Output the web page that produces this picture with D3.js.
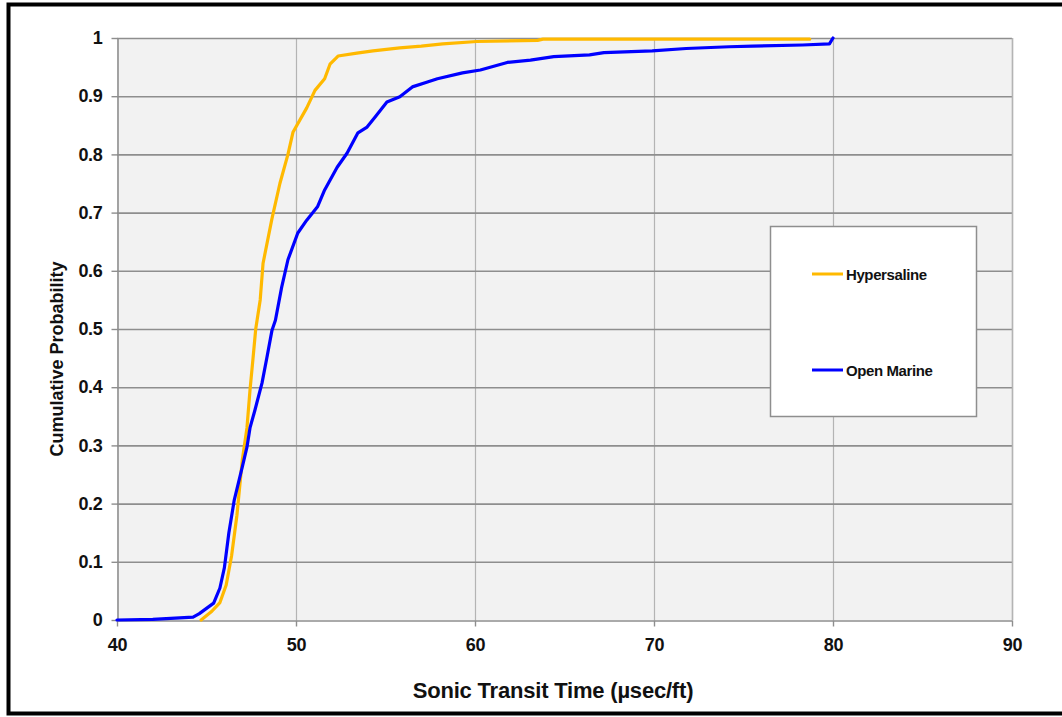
<!DOCTYPE html>
<html>
<head>
<meta charset="utf-8">
<script src="https://cdn.jsdelivr.net/npm/d3@7/dist/d3.min.js"></script>
<style>
  html, body { margin: 0; padding: 0; background: #fff; }
  svg { display: block; font-family: "Liberation Sans", Arial, sans-serif; }
</style>
</head>
<body>
<svg id="chart" width="1062" height="717"></svg>
<script>
// Hypersaline cumulative curve (transit time, cumulative probability)
const hyperX = [44.7, 45.3, 45.75, 46.1, 46.4, 46.7, 47.0, 47.26, 47.43, 47.6, 47.75, 48.0, 48.16, 48.66, 49.1, 49.55, 49.83, 50.6, 51.06, 51.6, 51.9, 52.35, 53.4, 54.3, 55.8, 57.0, 58.2, 60.1, 63.5, 63.8, 78.7];
const hyperP = [0, 0.015, 0.03, 0.06, 0.11, 0.18, 0.275, 0.33, 0.395, 0.45, 0.50, 0.55, 0.613, 0.69, 0.75, 0.80, 0.838, 0.88, 0.91, 0.93, 0.955, 0.969, 0.974, 0.978, 0.983, 0.986, 0.99, 0.994, 0.996, 0.998, 0.998];

// Open Marine cumulative curve
const marineX = [40.0, 42.0, 44.25, 44.6, 45.4, 45.75, 46.0, 46.25, 46.55, 47.0, 47.26, 47.43, 47.7, 48.1, 48.38, 48.66, 48.85, 49.2, 49.55, 50.1, 50.6, 51.2, 51.6, 52.3, 52.85, 53.46, 53.97, 54.41, 55.08, 55.8, 56.5, 57.3, 57.9, 59.3, 60.3, 61.8, 63.1, 64.4, 66.4, 67.2, 69.9, 71.8, 74.2, 75.5, 78.3, 79.8, 80.0];
const marineP = [0, 0.001, 0.005, 0.011, 0.029, 0.055, 0.09, 0.15, 0.206, 0.263, 0.297, 0.33, 0.36, 0.407, 0.452, 0.498, 0.515, 0.572, 0.619, 0.665, 0.687, 0.71, 0.739, 0.778, 0.802, 0.837, 0.847, 0.864, 0.89, 0.899, 0.916, 0.924, 0.93, 0.94, 0.945, 0.958, 0.962, 0.968, 0.971, 0.975, 0.978, 0.982, 0.985, 0.986, 0.988, 0.990, 1.0];

const xTicks = [40, 50, 60, 70, 80, 90];
const yTicks = [0, 0.1, 0.2, 0.3, 0.4, 0.5, 0.6, 0.7, 0.8, 0.9, 1];

const seriesNames = ['Hypersaline', 'Open Marine'];
const seriesColors = ['#ffb900', '#0000ff'];

const svg = d3.select('#chart');
const plot = { left: 117, right: 1012, top: 38, bottom: 620 };

const x = d3.scaleLinear().domain([40, 90]).range([plot.left, plot.right]);
const y = d3.scaleLinear().domain([0, 1]).range([plot.bottom, plot.top]);

// Outer frame
svg.append('rect')
  .attr('x', 8.5).attr('y', 4.5)
  .attr('width', 1062).attr('height', 709)
  .attr('fill', 'none')
  .attr('stroke', '#000')
  .attr('stroke-width', 4);

// Plot background
svg.append('rect')
  .attr('x', plot.left).attr('y', plot.top)
  .attr('width', plot.right - plot.left)
  .attr('height', plot.bottom - plot.top)
  .attr('fill', '#f2f2f2');

// Vertical grid
svg.append('g')
  .selectAll('line')
  .data(xTicks.slice(1))
  .enter().append('line')
  .attr('x1', d => x(d) + 0.5).attr('x2', d => x(d) + 0.5)
  .attr('y1', plot.top).attr('y2', plot.bottom)
  .attr('stroke', '#b4b4b4')
  .attr('stroke-width', 1.2);

// Horizontal grid
svg.append('g')
  .selectAll('line')
  .data(yTicks.slice(1))
  .enter().append('line')
  .attr('x1', plot.left).attr('x2', plot.right)
  .attr('y1', d => y(d) + 0.5).attr('y2', d => y(d) + 0.5)
  .attr('stroke', '#8e8e8e')
  .attr('stroke-width', 1.6);

// Right border of plot area
svg.append('line')
  .attr('x1', plot.right + 0.5).attr('x2', plot.right + 0.5)
  .attr('y1', plot.top).attr('y2', plot.bottom)
  .attr('stroke', '#b4b4b4').attr('stroke-width', 1.5);

// Axes
const xAxis = svg.append('g')
  .attr('transform', `translate(0,${plot.bottom + 0.5})`)
  .call(d3.axisBottom(x).tickValues(xTicks).tickSize(6).tickSizeOuter(0).tickPadding(12).tickFormat(d3.format('d')));

const yAxis = svg.append('g')
  .attr('transform', `translate(${plot.left + 0.5},0)`)
  .call(d3.axisLeft(y).tickValues(yTicks).tickSize(6).tickSizeOuter(0).tickPadding(9).tickFormat(d => d === 0 || d === 1 ? String(d) : d3.format('.1f')(d)));

[xAxis, yAxis].forEach(ax => {
  ax.select('.domain').attr('stroke', '#8e8e8e').attr('stroke-width', 1.6);
  ax.selectAll('.tick line').attr('stroke', '#8e8e8e').attr('stroke-width', 1.4);
  ax.selectAll('.tick text')
    .attr('fill', '#111')
    .attr('font-size', '18px')
    .attr('font-weight', 'bold')
    .attr('letter-spacing', '-0.3px')
    .attr('font-family', '"Liberation Sans", Arial, sans-serif');
});

// Lines
const line = d3.line()
  .x(d => x(d[0]))
  .y(d => y(d[1]));

const seriesData = [
  d3.zip(hyperX, hyperP),
  d3.zip(marineX, marineP)
];

svg.append('g')
  .selectAll('path')
  .data(seriesData)
  .enter().append('path')
  .attr('d', line)
  .attr('fill', 'none')
  .attr('stroke', (d, i) => seriesColors[i])
  .attr('stroke-width', 3.2)
  .attr('stroke-linejoin', 'round')
  .attr('stroke-linecap', 'round');

// Legend
const legend = svg.append('g').attr('transform', 'translate(770,226)');
legend.append('rect')
  .attr('x', 0.5).attr('y', 0.5)
  .attr('width', 206).attr('height', 190)
  .attr('fill', '#fff')
  .attr('stroke', '#8e8e8e')
  .attr('stroke-width', 1.5);

const items = legend.selectAll('.item')
  .data(seriesNames)
  .enter().append('g')
  .attr('class', 'item')
  .attr('transform', (d, i) => `translate(0,${48 + i * 96})`);

items.append('line')
  .attr('x1', 42).attr('x2', 73)
  .attr('y1', 0).attr('y2', 0)
  .attr('stroke', (d, i) => seriesColors[i])
  .attr('stroke-width', 3);

items.append('text')
  .attr('x', 76).attr('y', 1)
  .attr('dy', '0.36em')
  .attr('font-size', '15px')
  .attr('font-weight', 'bold')
  .attr('letter-spacing', '-0.4px')
  .attr('fill', '#111')
  .text(d => d);

// Axis titles
svg.append('text')
  .attr('x', 553)
  .attr('y', 698)
  .attr('text-anchor', 'middle')
  .attr('font-size', '22px')
  .attr('font-weight', 'bold')
  .attr('letter-spacing', '-0.2px')
  .attr('fill', '#111')
  .text('Sonic Transit Time (µsec/ft)');

svg.append('text')
  .attr('transform', `translate(63,${(plot.top + plot.bottom) / 2 + 30}) rotate(-90)`)
  .attr('text-anchor', 'middle')
  .attr('font-size', '18px')
  .attr('font-weight', 'bold')
  .attr('fill', '#111')
  .text('Cumulative Probability');
</script>
</body>
</html>
